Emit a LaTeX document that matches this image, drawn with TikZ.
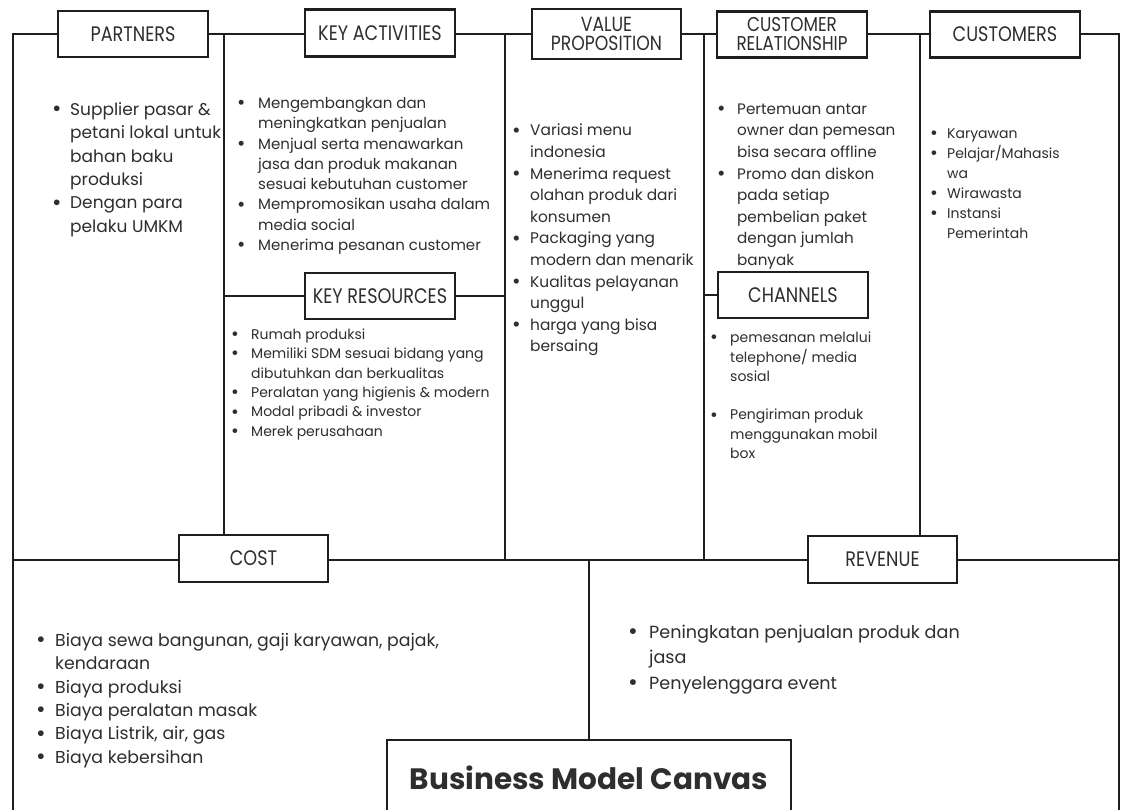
\documentclass[tikz,border=0pt]{standalone}
\usepackage{fontspec}
\usepackage{array}
\usepackage{graphicx}
\setmainfont{Poppins}
\newfontfamily\hfont[FakeStretch=0.84]{Poppins}
\usetikzlibrary{backgrounds}
\definecolor{ink}{HTML}{1E1E1E}
\definecolor{txt}{HTML}{2E2E2E}
\tikzset{
  frame/.style={draw=ink, line width=1.8pt},
  hbox/.style={draw=ink, line width=2.2pt, fill=white, inner sep=0pt,
    minimum width=150pt, minimum height=46pt, text=txt, align=center,
    font=\hfont\fontsize{21}{21}\selectfont},
  cell/.style={anchor=north west, inner sep=0pt, text=txt}
}
\newcommand{\bl}{\raisebox{-0.08em}{\scalebox{1.35}{\textbullet}}}
\begin{document}
\begin{tikzpicture}[x=1pt,y=-1pt]
\useasboundingbox (0,0) rectangle (1125,809);

% header boxes
\node[hbox] (partners) at (133,34) {PARTNERS};
\node[hbox, minimum height=47pt] (keyact) at (380,33) {KEY ACTIVITIES};
\node[hbox, minimum width=149pt, minimum height=50pt, font=\hfont\fontsize{20.5}{19.5}\selectfont] (valprop) at (606.5,34) {VALUE\\PROPOSITION};
\node[hbox, font=\hfont\fontsize{20}{19}\selectfont] (custrel) at (792,34.5) {CUSTOMER\\RELATIONSHIP};
\node[hbox] (customers) at (1005,34.5) {CUSTOMERS};
\node[hbox] (keyres) at (380,296) {KEY RESOURCES};
\node[hbox] (channels) at (793,295) {CHANNELS};
\node[hbox, minimum width=149pt, minimum height=47pt] (cost) at (253.5,558.5) {COST};
\node[hbox, minimum width=149pt, minimum height=47pt] (revenue) at (882.5,559.5) {REVENUE};
\node[hbox, anchor=north, minimum width=404pt, minimum height=76pt,
  font=\bfseries\fontsize{29.5}{29.5}\selectfont] (bmc) at (589,739) {Business Model Canvas};

% frame coordinates
\coordinate (tl) at (13,34);
\coordinate (tr) at (1119,34);
\coordinate (bl) at (13,815);
\coordinate (br) at (1119,815);
\coordinate (ml) at (13,560);
\coordinate (mr) at (1119,560);
\coordinate (v1) at (224,34);
\coordinate (v2) at (505,34);
\coordinate (v3) at (704,34);
\coordinate (v4) at (920,34);
\coordinate (v5) at (589,560);

\begin{scope}[on background layer]
\fill[white] (0,0) rectangle (1125,809);
\draw[frame] (bl) -- (tl) -- (tr) -- (br);
\draw[frame] (ml) -- (mr);
\draw[frame] (v1) -- (v1 |- cost.north);
\draw[frame] (v2) -- (v2 |- ml);
\draw[frame] (v3) -- (v3 |- ml);
\draw[frame] (v4) -- (v4 |- revenue.north);
\draw[frame] (v5) -- (bmc.north);
\draw[frame] (v1 |- keyres) -- (keyres.west);
\draw[frame] (keyres.east) -- (v2 |- keyres);
\draw[frame] (v3 |- channels) -- (channels.west);
\end{scope}

% texts
\node[cell] (tpartners) at (52,99) {\fontsize{17}{23.3}\selectfont
\begin{tabular}{@{}p{18pt}@{}l@{}}
\bl & Supplier pasar \&\\
 & petani lokal untuk\\
 & bahan baku\\
 & produksi\\
\bl & Dengan para\\
 & pelaku UMKM
\end{tabular}};

\node[cell] (tkeyact) at (237,94) {\fontsize{15}{20.3}\selectfont
\begin{tabular}{@{}p{21pt}@{}l@{}}
\bl & Mengembangkan dan\\
 & meningkatkan penjualan\\
\bl & Menjual serta menawarkan\\
 & jasa dan produk makanan\\
 & sesuai kebutuhan customer\\
\bl & Mempromosikan usaha dalam\\
 & media social\\
\bl & Menerima pesanan customer
\end{tabular}};

\node[cell] (tvalprop) at (512,120.5) {\fontsize{15.4}{21.6}\selectfont
\begin{tabular}{@{}p{18pt}@{}l@{}}
\bl & Variasi menu\\
 & indonesia\\
\bl & Menerima request\\
 & olahan produk dari\\
 & konsumen\\
\bl & Packaging yang\\
 & modern dan menarik\\
\bl & Kualitas pelayanan\\
 & unggul\\
\bl & harga yang bisa\\
 & bersaing
\end{tabular}};

\node[cell] (tcustrel) at (717,99) {\fontsize{15.2}{21.6}\selectfont
\begin{tabular}{@{}p{20pt}@{}l@{}}
\bl & Pertemuan antar\\
 & owner dan pemesan\\
 & bisa secara offline\\
\bl & Promo dan diskon\\
 & pada setiap\\
 & pembelian paket\\
 & dengan jumlah\\
 & banyak
\end{tabular}};

\node[cell] (tcustomers) at (930,124.5) {\fontsize{14}{20}\selectfont
\begin{tabular}{@{}p{17pt}@{}l@{}}
\bl & Karyawan\\
\bl & Pelajar/Mahasis\\
 & wa\\
\bl & Wirawasta\\
\bl & Instansi\\
 & Pemerintah
\end{tabular}};

\node[cell] (tkeyres) at (231,325.5) {\fontsize{14}{19.4}\selectfont
\begin{tabular}{@{}p{20pt}@{}l@{}}
\bl & Rumah produksi\\
\bl & Memiliki SDM sesuai bidang yang\\
 & dibutuhkan dan berkualitas\\
\bl & Peralatan yang higienis \& modern\\
\bl & Modal pribadi \& investor\\
\bl & Merek perusahaan
\end{tabular}};

\node[cell] (tchannels) at (710,329) {\fontsize{14}{19.3}\selectfont
\begin{tabular}{@{}p{20pt}@{}l@{}}
\bl & pemesanan melalui\\
 & telephone/ media\\
 & sosial\\
 & \\
\bl & Pengiriman produk\\
 & menggunakan mobil\\
 & box
\end{tabular}};

\node[cell] (tcost) at (36,630) {\fontsize{17.3}{23.3}\selectfont
\begin{tabular}{@{}p{19pt}@{}l@{}}
\bl & Biaya sewa bangunan, gaji karyawan, pajak,\\
 & kendaraan\\
\bl & Biaya produksi\\
\bl & Biaya peralatan masak\\
\bl & Biaya Listrik, air, gas\\
\bl & Biaya kebersihan
\end{tabular}};

\node[cell] (trevenue) at (628,620) {\fontsize{17.6}{25.5}\selectfont
\begin{tabular}{@{}p{21pt}@{}l@{}}
\bl & Peningkatan penjualan produk dan\\
 & jasa\\
\bl & Penyelenggara event
\end{tabular}};
\end{tikzpicture}
\end{document}
